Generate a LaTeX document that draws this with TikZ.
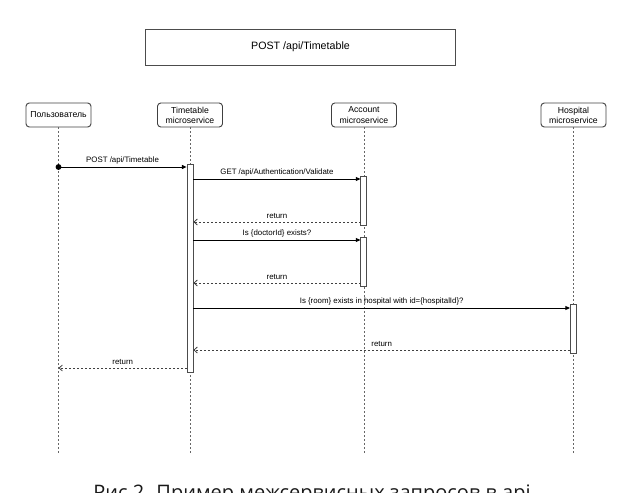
\documentclass[tikz,border=0pt]{standalone}
\usepackage{fontspec}
\setmainfont{Liberation Sans}
\newfontfamily\captionfont{Open Sans}
\usetikzlibrary{arrows.meta}
\tikzstyle{titlebox} = [rectangle, draw=black!70, line width=0.6pt, minimum width=233pt, minimum height=27pt, font=\fontsize{8}{10}\selectfont]
\tikzstyle{actor} = [rectangle, rounded corners=2.5pt, draw=black!75, line width=0.7pt, minimum width=48.75pt, minimum height=18pt, inner sep=1pt, align=center, font=\fontsize{6.5}{7.6}\selectfont]
\tikzstyle{lifeline} = [draw=black!60, line width=0.6pt, dash pattern=on 1.5pt off 1.5pt]
\tikzstyle{activation} = [rectangle, draw=black!70, fill=white, line width=0.6pt, minimum width=4.5pt, inner sep=0pt, anchor=north]
\tikzstyle{msg} = [draw=black, line width=0.7pt, -{Triangle[length=3.5pt,width=3pt]}]
\tikzstyle{ret} = [draw=black!75, line width=0.6pt, dash pattern=on 1.5pt off 1.5pt, -{Straight Barb[length=2.5pt,width=4.5pt]}]
\tikzstyle{msglabel} = [midway, above, inner sep=2pt, font=\fontsize{5.9}{7}\selectfont]

\begin{document}
\begin{tikzpicture}[x=0.75pt, y=-0.75pt]

        \useasboundingbox (0,0) rectangle (644,493);
        \clip (0,0) rectangle (644,493);

        \node (title) [titlebox] at (300.5,47) {POST /api/Timetable};

        % participants
        \node (user) [actor] at (58.5,115) {Пользователь};
        \node (tt)   [actor] at (190,115)  {Timetable\\microservice};
        \node (acc)  [actor] at (364,115)  {Account\\microservice};
        \node (hosp) [actor] at (573.5,115) {Hospital\\microservice};

        \coordinate (user end) at (58.5,455);
        \coordinate (tt end)   at (190,455);
        \coordinate (acc end)  at (364,455);
        \coordinate (hosp end) at (573.5,455);

        \draw[lifeline] (user) -- (user end);
        \draw[lifeline] (tt) -- (tt end);
        \draw[lifeline] (acc) -- (acc end);
        \draw[lifeline] (hosp) -- (hosp end);

        % activations
        \node (tt bar)   [activation, minimum height=156pt]   at (190,164) {};
        \node (acc bar1) [activation, minimum height=36.75pt] at (363.5,176) {};
        \node (acc bar2) [activation, minimum height=36.75pt] at (363.5,237) {};
        \node (hosp bar) [activation, minimum height=36.75pt] at (573,304) {};

        % message levels
        \coordinate (post)  at (58.5,167);
        \coordinate (get)   at (360.5,179);
        \coordinate (ret1)  at (360.5,222);
        \coordinate (doc)   at (360.5,240);
        \coordinate (ret2)  at (360.5,283);
        \coordinate (room)  at (570,308);
        \coordinate (ret3)  at (570,350);
        \coordinate (ret4)  at (187,368);

        \fill (post) circle (2.2pt);
        \draw[msg] (post) -- (tt bar.west |- post) node[msglabel] {POST /api/Timetable};
        \draw[msg] (tt bar.east |- get) -- (get) node[msglabel] {GET /api/Authentication/Validate};
        \draw[ret] (ret1) -- (tt bar.east |- ret1) node[msglabel] {return};
        \draw[msg] (tt bar.east |- doc) -- (doc) node[msglabel] {Is \{doctorId\} exists?};
        \draw[ret] (ret2) -- (tt bar.east |- ret2) node[msglabel] {return};
        \draw[msg] (tt bar.east |- room) -- (room) node[msglabel] {Is \{room\} exists in hospital with id=\{hospitalId\}?};
        \draw[ret] (ret3) -- (tt bar.east |- ret3) node[msglabel] {return};
        \draw[ret] (ret4) -- (user end |- ret4) node[msglabel] {return};

        \node (caption) [anchor=base, text=black!90, font=\captionfont\fontsize{15}{18}\selectfont] at (312,499) {Рис 2. Пример межсервисных запросов в api};

    \end{tikzpicture}
\end{document}
